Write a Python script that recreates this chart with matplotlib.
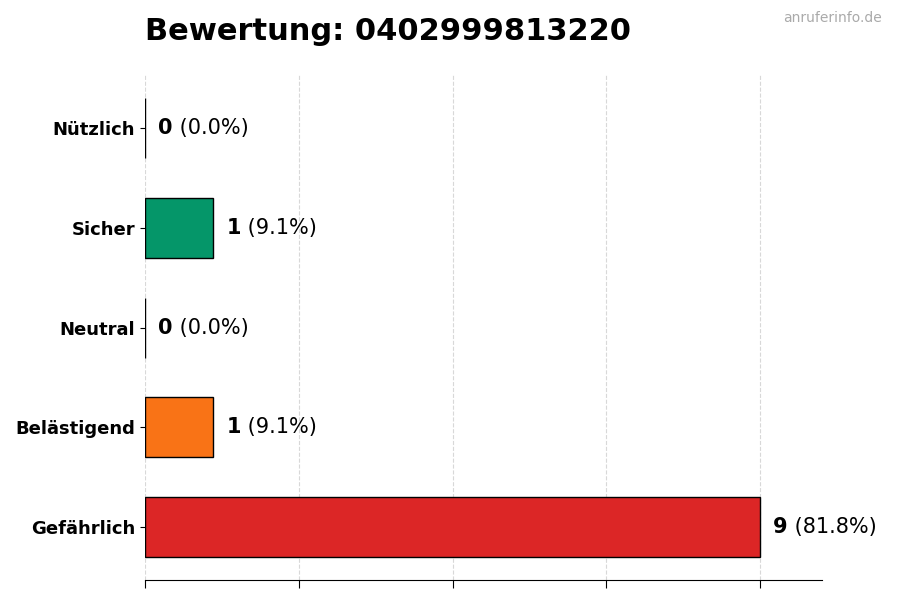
import matplotlib
matplotlib.use("Agg")
import matplotlib.pyplot as plt

# ratings, bottom to top
labels = ["Gefährlich", "Belästigend", "Neutral", "Sicher", "Nützlich"]
counts = [9, 1, 0, 1, 0]
colors = ["#dc2626", "#f97316", "#9ca3af", "#059669", "#3b82f6"]

total = sum(counts)
maxv = max(counts)

fig = plt.figure(figsize=(9, 6), dpi=100)
ax = fig.add_axes([0.161, 0.033, 0.752, 0.842])

ax.barh(range(len(labels)), counts, height=0.6, color=colors,
        edgecolor="black", linewidth=1, zorder=3)

ax.set_xlim(0, maxv * 1.1)
ax.set_xticks([maxv * f for f in (0, 0.25, 0.5, 0.75, 1.0)])
ax.set_xticklabels([])
ax.set_yticks(range(len(labels)))
ax.set_yticklabels(labels, fontsize=13, fontweight="bold")
ax.tick_params(axis="x", length=6)
ax.grid(axis="x", linestyle="--", color="#d8d8d8", linewidth=0.8, zorder=0)
for s in ("top", "right", "left"):
    ax.spines[s].set_visible(False)

fig.canvas.draw()
r = fig.canvas.get_renderer()
for i, c in enumerate(counts):
    t = ax.annotate(str(c), (c, i), xytext=(9.5, 0), textcoords="offset points",
                    va="center", ha="left", fontsize=15, fontweight="bold")
    bb = t.get_window_extent(renderer=r)
    ax.annotate(" (%.1f%%)" % (100.0 * c / total), (bb.x1, (bb.y0 + bb.y1) / 2),
                xycoords="figure pixels", va="center", ha="left", fontsize=15)

fig.text(0.161, 0.947, "Bewertung: 0402999813220", fontsize=22,
         fontweight="bold", ha="left", va="center")
fig.text(0.98, 0.97, "anruferinfo.de", fontsize=10, color="#aaaaaa",
         ha="right", va="center")

fig.savefig("out.png", dpi=100)
